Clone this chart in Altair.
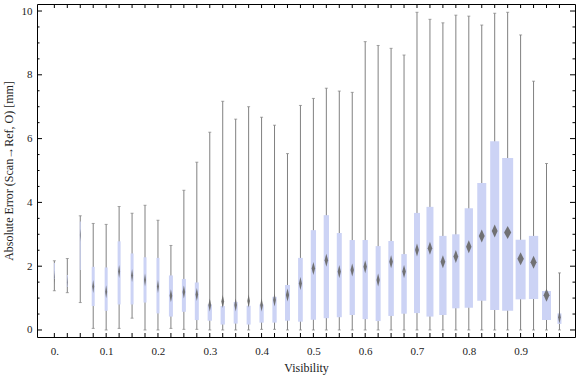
import altair as alt
import pandas as pd

# ---- data ----
visibility = [0.0, 0.025, 0.05, 0.075, 0.1, 0.125, 0.15, 0.175, 0.2, 0.225,
              0.25, 0.275, 0.3, 0.325, 0.35, 0.375, 0.4, 0.425, 0.45, 0.475,
              0.5, 0.525, 0.55, 0.575, 0.6, 0.625, 0.65, 0.675, 0.7, 0.725,
              0.75, 0.775, 0.8, 0.825, 0.85, 0.875, 0.9, 0.925, 0.95, 0.975]
whisker_lo = [1.23, 1.17, 0.86, 0.05, 0.0, 0.05, 0.37, 0.0, 0.0, 0.05,
              0.02, 0.02, 0.0, 0.0, 0.0, 0.0, 0.02, 0.02, 0.0, 0.0,
              0.0, 0.0, 0.0, 0.0, 0.0, 0.0, 0.0, 0.0, 0.0, 0.0,
              0.0, 0.0, 0.0, 0.0, 0.0, 0.0, 0.0, 0.0, 0.0, 0.0]
q1 = [1.60, 1.35, 1.88, 0.75, 0.60, 0.80, 0.80, 0.86, 0.52, 0.42,
      0.57, 0.31, 0.29, 0.17, 0.20, 0.17, 0.23, 0.23, 0.29, 0.26,
      0.32, 0.37, 0.40, 0.47, 0.34, 0.28, 0.44, 0.51, 0.53, 0.42,
      0.47, 0.68, 0.70, 0.92, 0.63, 0.60, 0.96, 0.97, 0.31, 0.19]
center = [1.65, 1.50, 2.98, 1.36, 1.20, 1.83, 1.71, 1.57, 1.36, 1.07,
          1.19, 1.11, 0.78, 0.89, 0.78, 0.91, 0.78, 0.94, 1.10, 1.46,
          1.93, 2.19, 1.83, 1.88, 1.98, 1.57, 2.14, 1.83, 2.51, 2.56,
          2.14, 2.30, 2.61, 2.95, 3.10, 3.06, 2.23, 2.12, 1.09, 0.40]
q3 = [2.10, 1.72, 3.40, 1.98, 1.96, 2.78, 2.40, 2.28, 2.26, 1.71,
      1.60, 1.49, 0.80, 0.75, 0.88, 0.76, 0.80, 1.04, 1.41, 2.26,
      3.13, 3.60, 3.04, 2.82, 2.82, 2.63, 2.79, 2.38, 3.67, 3.86,
      2.95, 3.00, 3.82, 4.61, 5.92, 5.39, 2.83, 2.95, 1.22, 0.52]
whisker_hi = [2.17, 2.24, 3.58, 3.34, 3.31, 3.87, 3.66, 3.91, 3.44, 2.65,
              4.38, 5.26, 6.20, 7.17, 6.61, 7.00, 6.67, 6.42, 5.53, 7.04,
              7.26, 7.58, 7.49, 7.45, 9.04, 8.92, 8.83, 8.62, 9.96, 9.74,
              9.63, 9.87, 9.84, 9.56, 9.93, 9.96, 9.25, 7.80, 5.22, 1.79]
# relative box weight (drawn as box width)
weight = [1, 1, 1, 3, 3, 3, 3, 3, 3, 4,
          4, 4, 4.3, 4.3, 4, 4, 4.3, 4.3, 5, 4.7,
          5.3, 5.3, 5, 5.3, 5.3, 5, 5.5, 5.5, 6, 7,
          7.3, 7.3, 8.3, 9, 9, 11, 10, 9.3, 9, 4]

x_tick_values = visibility
x_label_values = [0.0, 0.1, 0.2, 0.3, 0.4, 0.5, 0.6, 0.7, 0.8, 0.9]
y_major_ticks = [0, 2, 4, 6, 8, 10]
y_minor_ticks = [0.5, 1, 1.5, 2.5, 3, 3.5, 4.5, 5, 5.5, 6.5, 7, 7.5, 8.5, 9, 9.5]

df = pd.DataFrame({"vis": visibility, "lo": whisker_lo, "q1": q1, "mid": center,
                   "q3": q3, "hi": whisker_hi, "w": weight})

W, H = 538, 333
FONT = "Liberation Serif"
xs = alt.Scale(domain=[-0.0335, 1.005], nice=False, zero=False, padding=0)
ys = alt.Scale(domain=[-0.22, 10.22], nice=False, zero=False, padding=0)

xaxis = alt.Axis(
    values=x_label_values, ticks=False, domain=False, grid=False,
    labelExpr="datum.value == 0 ? '0.' : format(datum.value, '.1f')",
    labelFont=FONT, labelFontSize=11, labelColor="#222", labelPadding=8,
    title="Visibility", titleFont=FONT, titleFontSize=12, titleFontWeight="normal",
    titleColor="#222", titlePadding=6)
yaxis = alt.Axis(
    values=y_major_ticks, ticks=False, domain=False, grid=False,
    labelFont=FONT, labelFontSize=11, labelColor="#222", labelPadding=5,
    title="Absolute Error (Scan\u2192Ref, O) [mm]", titleFont=FONT,
    titleFontSize=12, titleFontWeight="normal", titleColor="#222", titlePadding=6)

def X(f):
    return alt.X(f, scale=xs, axis=xaxis)

def Y(f):
    return alt.Y(f, scale=ys, axis=yaxis)

base = alt.Chart(df)

whisk = base.mark_rule(color="#808080", strokeWidth=1).encode(
    x=X("vis:Q"), y=Y("lo:Q"), y2="hi:Q")

cap_lo = base.mark_tick(orient="horizontal", color="#808080", size=3, thickness=1).encode(
    x=X("vis:Q"), y=Y("lo:Q"))
cap_hi = base.mark_tick(orient="horizontal", color="#808080", size=3, thickness=1).encode(
    x=X("vis:Q"), y=Y("hi:Q"))

box = base.mark_bar(color="#CCD3F5").encode(
    x=X("vis:Q"), y=Y("q1:Q"), y2="q3:Q",
    size=alt.Size("w:Q", scale=None, legend=None),
)

diamond = base.transform_calculate(
    dpath="'M0,-1L' + (datum.w/20) + ',0L0,1L' + (-datum.w/20) + ',0Z'"
).mark_point(filled=True, color="#6c6c6c", opacity=0.95, size=169, strokeWidth=0).encode(
    x=X("vis:Q"), y=Y("mid:Q"),
    shape=alt.Shape("dpath:N", scale=None, legend=None),
)

xt = pd.DataFrame({"t": x_tick_values})
ymaj = pd.DataFrame({"t": y_major_ticks})
ymin = pd.DataFrame({"t": y_minor_ticks})

def xticks(y0, y1):
    return alt.Chart(xt).mark_rule(color="black", strokeWidth=1).encode(
        x=X("t:Q"), y=alt.value(y0), y2=alt.value(y1))

def yticks(d, x0, x1):
    return alt.Chart(d).mark_rule(color="black", strokeWidth=1).encode(
        y=Y("t:Q"), x=alt.value(x0), x2=alt.value(x1))

chart = alt.layer(
    whisk, cap_lo, cap_hi, box, diamond,
    xticks(H, H - 4), xticks(0, 4),
    yticks(ymaj, 0, 5), yticks(ymin, 0, 2.5),
    yticks(ymaj, W, W - 5), yticks(ymin, W, W - 2.5),
).properties(
    width=W, height=H,
    autosize=alt.AutoSizeParams(type="none"),
    padding={"left": 37, "top": 4, "right": 1, "bottom": 40},
).configure_view(stroke="black", strokeWidth=1)

chart.save("out.html", embed_options={"renderer": "svg", "actions": False})
